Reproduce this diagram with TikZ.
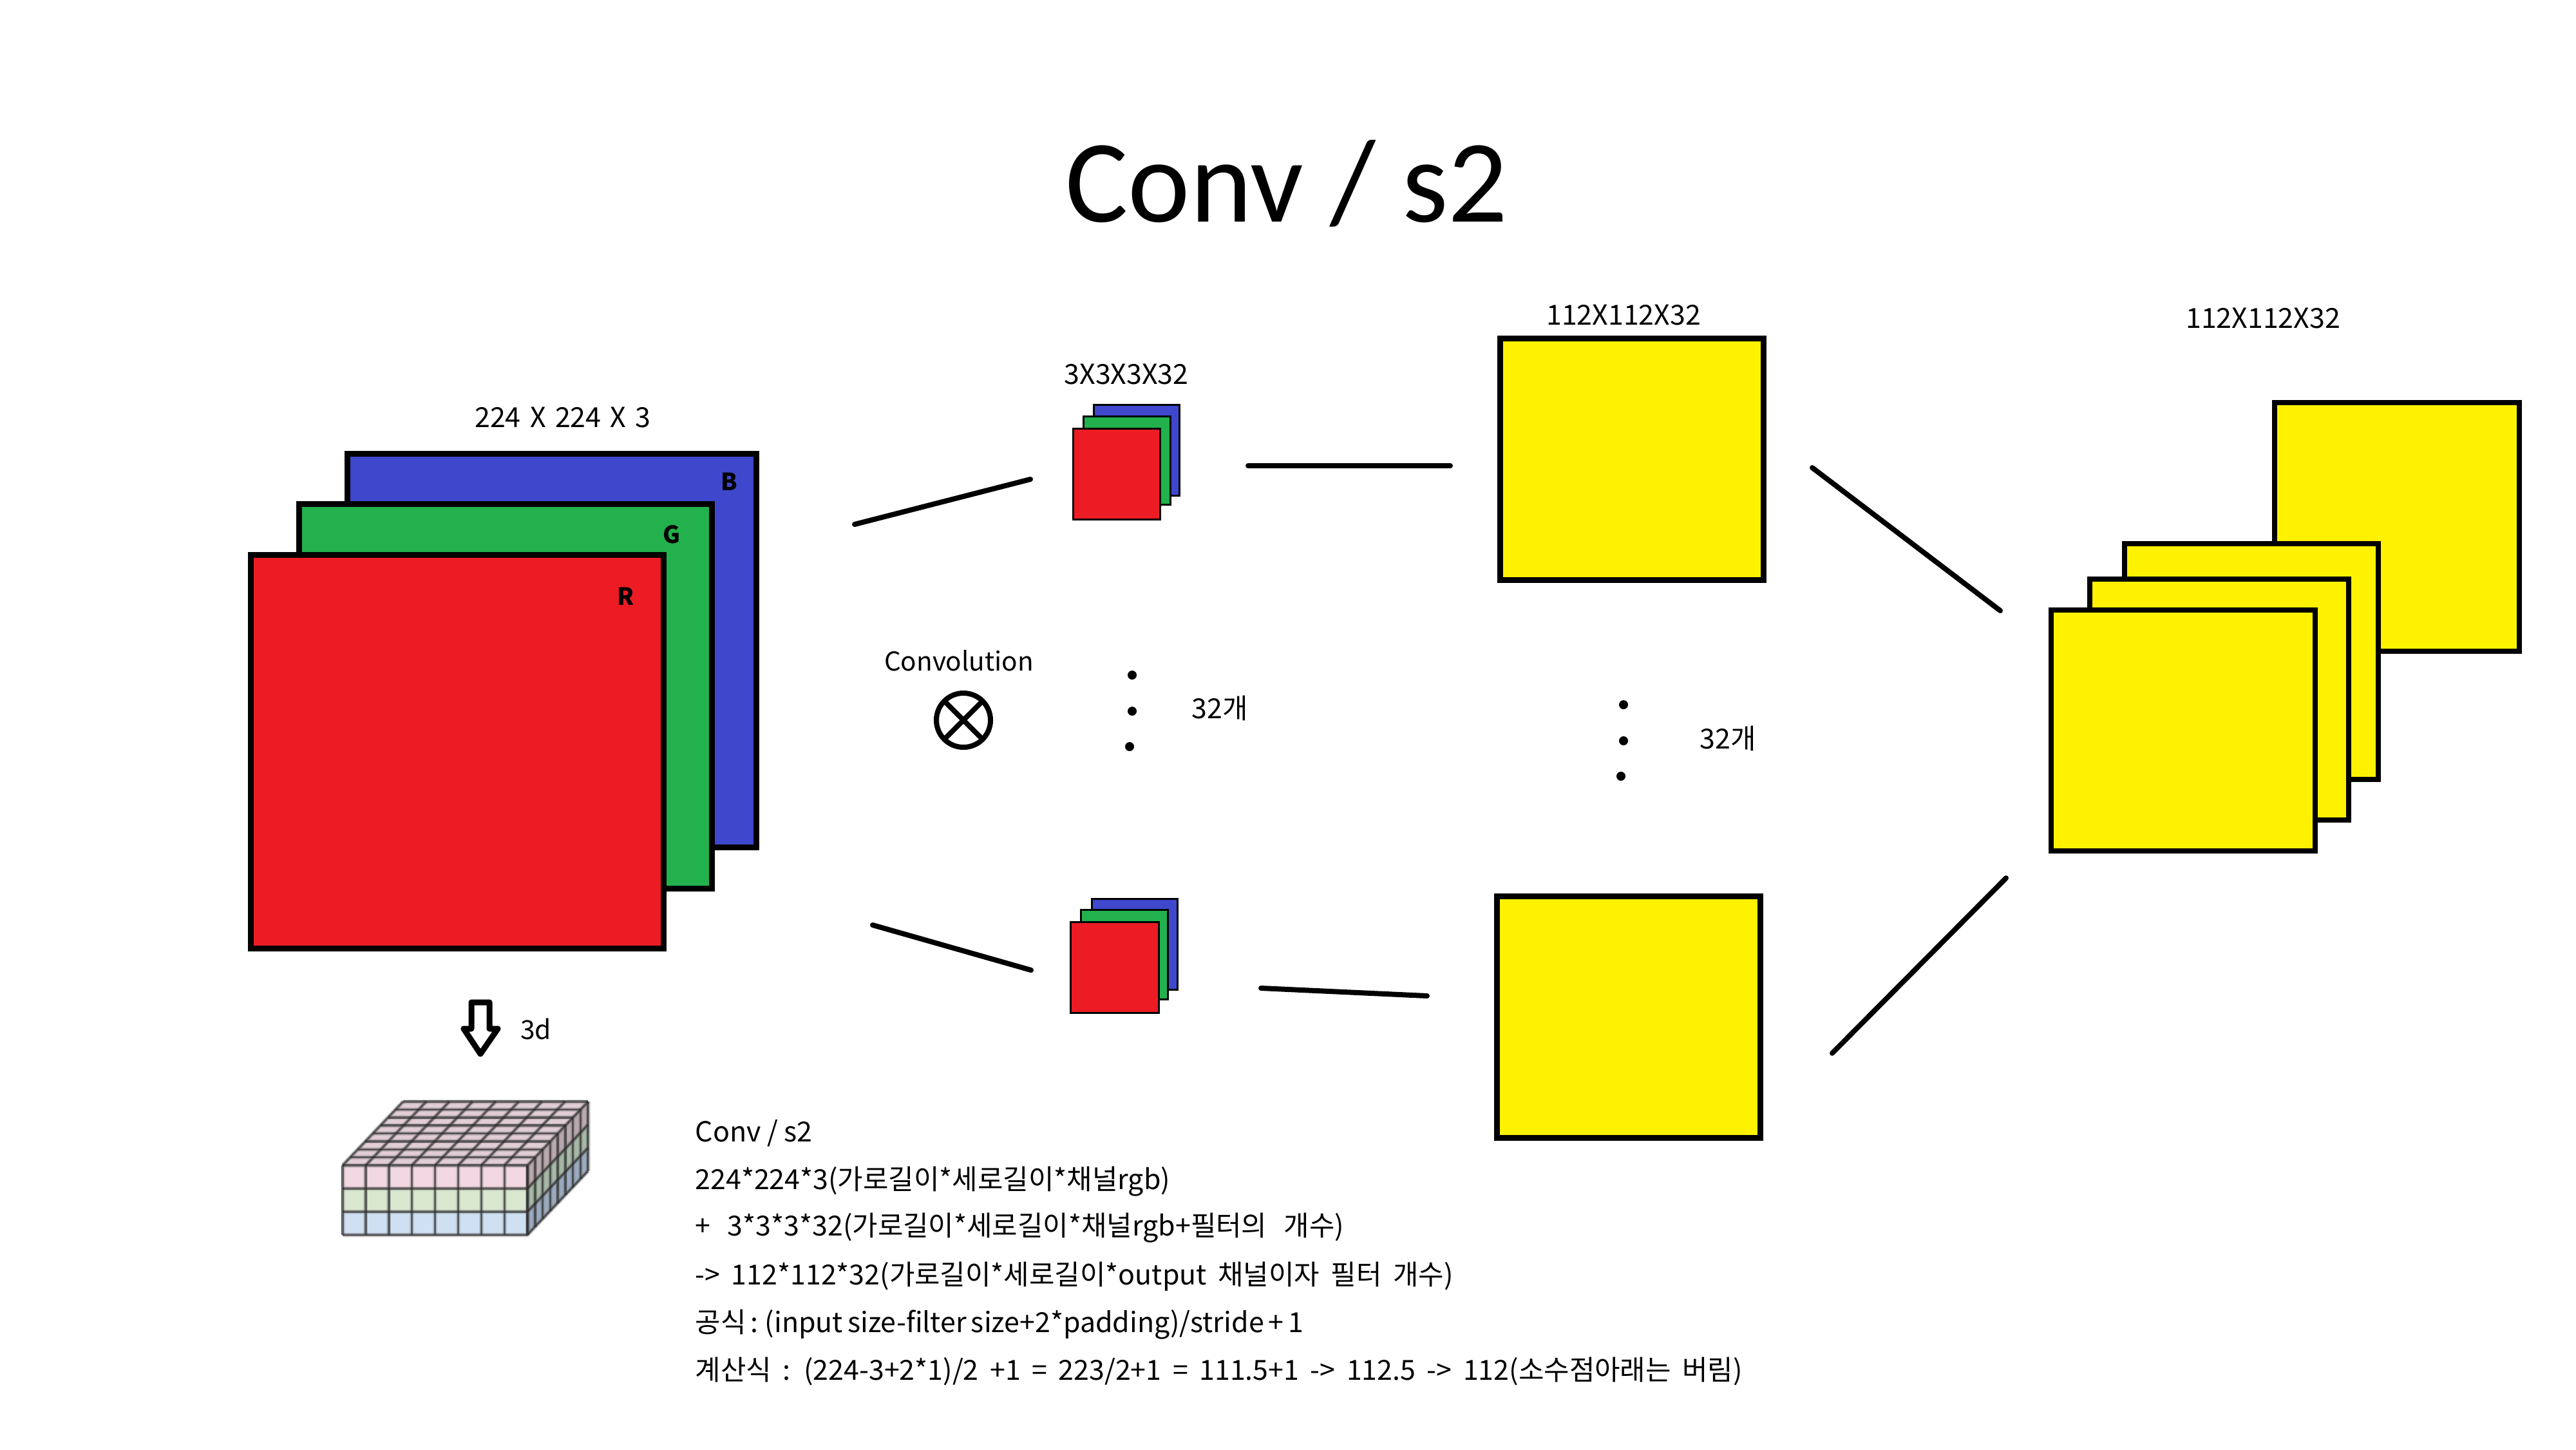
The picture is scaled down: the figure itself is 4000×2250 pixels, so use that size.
\documentclass[tikz,border=0pt]{standalone}
\usepackage{fontspec}
\setmainfont{Noto Sans CJK KR}
\newfontfamily\titlefont{Carlito}

\definecolor{sheetred}{HTML}{ED1C24}
\definecolor{sheetgreen}{HTML}{22B14C}
\definecolor{sheetblue}{HTML}{3F48CC}
\definecolor{sheetyellow}{HTML}{FFF200}
\definecolor{cubepink}{HTML}{F1D8E3}
\definecolor{cubemint}{HTML}{DAE8D0}
\definecolor{cubesky}{HTML}{CFE0F3}
\definecolor{cubetop}{HTML}{E0CDD5}
\definecolor{sidepink}{HTML}{BBA9B0}
\definecolor{sidemint}{HTML}{A6B8A6}
\definecolor{sidesky}{HTML}{9AAABF}

\tikzset{
    sheet/.style={draw=black, line width=0.09cm, inner sep=0pt, outer sep=0pt},
    tiny sheet/.style={draw=black, line width=0.03cm, inner sep=0pt, outer sep=0pt},
    link/.style={line width=0.08cm, line cap=round},
    label/.style={font=\fontsize{12.2}{14}\selectfont, inner sep=0pt},
    note/.style={font={\fontsize{12.2}{14}\selectfont\spaceskip=#1\relax}, inner sep=0pt, anchor=base west},
    cubeline/.style={line width=0.035cm, black!85, opacity=0.65,
        preaction={draw, line width=0.07cm, black!60, opacity=0.25}}
}

\begin{document}
\begin{tikzpicture}[x=0.01cm, y=-0.01cm]

    \useasboundingbox (0,0) rectangle (4000,2250);

    % Title
    \node[inner sep=0pt, anchor=base, font=\titlefont\fontsize{52}{60}\selectfont] (title) at (1998,344) {Conv / s2};

    % Input image
    \node[sheet, fill=sheetblue, minimum width=6.34cm, minimum height=6.10cm] (inB) at (857,1010) {};
    \node[sheet, fill=sheetgreen, minimum width=6.40cm, minimum height=5.96cm] (inG) at (785,1081) {};
    \node[sheet, fill=sheetred, minimum width=6.40cm, minimum height=6.11cm] (inR) at (710,1167) {};
    \node[label, font=\fontsize{10.5}{12}\selectfont\bfseries] (letterB) at (1132,748) {B};
    \node[label, font=\fontsize{10.5}{12}\selectfont\bfseries] (letterG) at (1043,830) {G};
    \node[label, font=\fontsize{10.5}{12}\selectfont\bfseries] (letterR) at (972,926) {R};
    \node[label, font={\fontsize{12.2}{14}\selectfont\spaceskip=4.1pt\relax}] (inSize) at (874,648) {224 X 224 X 3};

    % Filters
    \node[tiny sheet, fill=sheetblue, minimum width=1.33cm, minimum height=1.41cm] (upB) at (1765,699) {};
    \node[tiny sheet, fill=sheetgreen, minimum width=1.34cm, minimum height=1.37cm] (upG) at (1750,715) {};
    \node[tiny sheet, fill=sheetred, minimum width=1.35cm, minimum height=1.41cm] (upR) at (1734,736) {};
    \node[label] (filterSize) at (1749,581) {3X3X3X32};

    \node[tiny sheet, fill=sheetblue, minimum width=1.32cm, minimum height=1.41cm] (lowB) at (1762,1466) {};
    \node[tiny sheet, fill=sheetgreen, minimum width=1.34cm, minimum height=1.39cm] (lowG) at (1746,1482) {};
    \node[tiny sheet, fill=sheetred, minimum width=1.36cm, minimum height=1.41cm] (lowR) at (1731,1502) {};

    % Convolution sign
    \node[label, font=\fontsize{11.5}{14}\selectfont] (convText) at (1489,1026) {Convolution};
    \node[circle, draw, line width=0.08cm, inner sep=0pt, outer sep=0pt, minimum size=0.84cm] (conv) at (1496,1118) {};
    \draw[line width=0.08cm] (conv.45) -- (conv.225);
    \draw[line width=0.08cm] (conv.135) -- (conv.315);

    % Dots
    \foreach \px/\py in {1758/1048, 1758/1104, 1754/1159, 2521/1094, 2521/1150, 2517/1205}
        \fill (\px,\py) circle (0.07cm);
    \node[label] (countLeft) at (1894,1099) {32개};
    \node[label] (countRight) at (2683,1146) {32개};

    % Feature maps
    \node[sheet, fill=sheetyellow, minimum width=4.09cm, minimum height=3.74cm] (mapUp) at (2534,713) {};
    \node[sheet, fill=sheetyellow, minimum width=4.09cm, minimum height=3.74cm] (mapLow) at (2529,1579) {};
    \node[label] (mapSize) at (2521,489) {112X112X32};

    % Output stack
    \node[sheet, fill=sheetyellow, line width=0.08cm, minimum width=3.79cm, minimum height=3.85cm] (outD) at (3722,818) {};
    \node[sheet, fill=sheetyellow, line width=0.08cm, minimum width=3.94cm, minimum height=3.66cm] (outC) at (3496,1027) {};
    \node[sheet, fill=sheetyellow, line width=0.08cm, minimum width=4.02cm, minimum height=3.73cm] (outB) at (3446,1086) {};
    \node[sheet, fill=sheetyellow, line width=0.08cm, minimum width=4.09cm, minimum height=3.73cm] (outA) at (3390,1134) {};
    \node[label] (outSize) at (3514,494) {112X112X32};

    % Connectors
    \coordinate (inUpA) at (1327,814);
    \coordinate (inUpB) at (1600,744);
    \coordinate (inLowA) at (1355,1436);
    \coordinate (inLowB) at (1601,1506);
    \coordinate (midUpA) at (1938,723);
    \coordinate (midUpB) at (2252,723);
    \coordinate (midLowA) at (1958,1534);
    \coordinate (midLowB) at (2216,1546);
    \coordinate (outUpA) at (2814,726);
    \coordinate (outUpB) at (3106,948);
    \coordinate (outLowA) at (2845,1635);
    \coordinate (outLowB) at (3115,1363);
    \draw[link] (inUpA) -- (inUpB);
    \draw[link] (inLowA) -- (inLowB);
    \draw[link] (midUpA) -- (midUpB);
    \draw[link] (midLowA) -- (midLowB);
    \draw[link] (outUpA) -- (outUpB);
    \draw[link] (outLowA) -- (outLowB);

    % 3d arrow
    \draw[line width=0.09cm, line join=round, fill=white]
        (732,1556) -- (760,1556) -- (760,1597) -- (773,1597) -- (746,1636) -- (720,1597) -- (732,1597) -- cycle;
    \node[label, font=\fontsize{11.6}{14}\selectfont] (arrowText) at (832,1597) {3d};

    % Cube
    \fill[cubepink] (532,1809) rectangle ++(287,36);
    \fill[cubemint] (532,1845) rectangle ++(287,36);
    \fill[cubesky] (532,1881) rectangle ++(287,36);
    \fill[cubetop] (532,1809) -- ++(94,-99) -- ++(288,0) -- (819,1809) -- cycle;
    \fill[sidepink] (819,1809) -- ++(94,-99) -- ++(0,36) -- ++(-94,99) -- cycle;
    \fill[sidemint] (819,1845) -- ++(94,-99) -- ++(0,36) -- ++(-94,99) -- cycle;
    \fill[sidesky] (819,1881) -- ++(94,-99) -- ++(0,36) -- ++(-94,99) -- cycle;
    \foreach \i in {0,...,8} {
        \draw[cubeline] ({532+\i*35.9},1809) -- ++(0,108);
        \draw[cubeline] ({532+\i*35.9},1809) -- ++(94,-99);
        \draw[cubeline] ({532+\i*11.75},{1809-\i*12.375}) -- ++(287,0);
        \draw[cubeline] ({819+\i*11.75},{1809-\i*12.375}) -- ++(0,108);
    }
    \foreach \j in {1,...,3} {
        \draw[cubeline] (532,{1809+\j*36}) -- ++(287,0) -- ++(94,-99);
    }

    % Notes
    \node[note=2.7pt] (lineA) at (1079,1772) {Conv / s2};
    \node[note=2.7pt] (lineB) at (1079,1846) {224*224*3(가로길이*세로길이*채널rgb)};
    \node[note=7.5pt] (lineC) at (1079,1918) {+ 3*3*3*32(가로길이*세로길이*채널rgb+필터의 개수)};
    \node[note=5pt] (lineD) at (1079,1994) {-> 112*112*32(가로길이*세로길이*output 채널이자 필터 개수)};
    \node[note=2pt] (lineE) at (1079,2068) {공식 : (input size-filter size+2*padding)/stride + 1};
    \node[note=5pt] (lineF) at (1079,2142) {계산식 : (224-3+2*1)/2 +1 = 223/2+1 = 111.5+1 -> 112.5 -> 112(소수점아래는 버림)};

\end{tikzpicture}
\end{document}
